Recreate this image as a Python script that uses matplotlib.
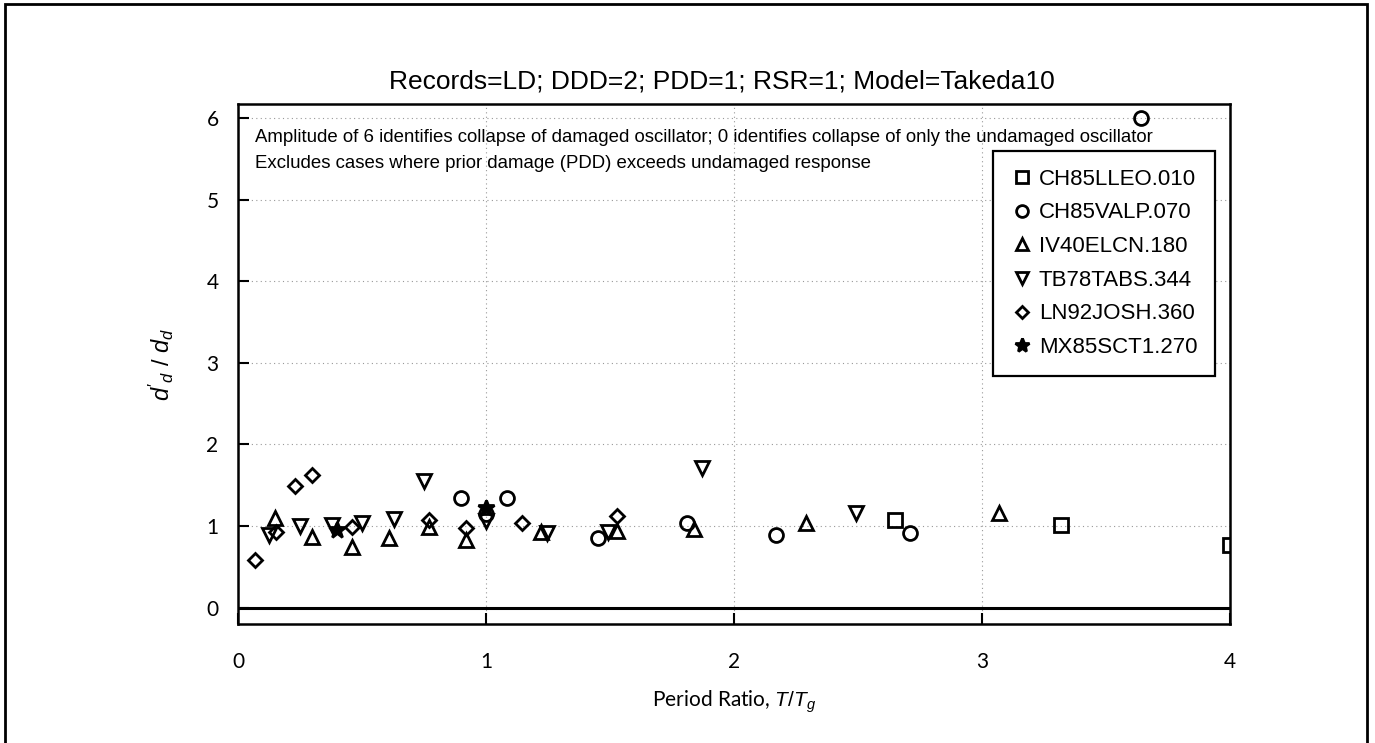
import matplotlib
matplotlib.use("Agg")
import matplotlib.pyplot as plt
from matplotlib.patches import Rectangle

plt.rcParams['font.family'] = ['Liberation Sans', 'DejaVu Sans']
plt.rcParams['mathtext.fontset'] = 'custom'
plt.rcParams['mathtext.it'] = 'Liberation Sans:italic'
plt.rcParams['mathtext.rm'] = 'Liberation Sans'

title = "Records=LD; DDD=2; PDD=1; RSR=1; Model=Takeda10"
note1 = "Amplitude of 6 identifies collapse of damaged oscillator; 0 identifies collapse of only the undamaged oscillator"
note2 = "Excludes cases where prior damage (PDD) exceeds undamaged response"

labels = ["CH85LLEO.010", "CH85VALP.070", "IV40ELCN.180", "TB78TABS.344", "LN92JOSH.360", "MX85SCT1.270"]

llleo_x = [2.65, 3.32, 4.0]
llleo_y = [1.07, 1.02, 0.77]

valp_x = [0.90, 1.0, 1.085, 1.45, 1.81, 2.17, 2.71, 3.64]
valp_y = [1.35, 1.15, 1.35, 0.86, 1.04, 0.89, 0.91, 6.0]

elcn_x = [0.15, 0.30, 0.46, 0.61, 0.77, 0.92, 1.22, 1.53, 1.84, 2.29, 3.07]
elcn_y = [1.10, 0.87, 0.75, 0.86, 0.99, 0.83, 0.93, 0.94, 0.97, 1.04, 1.16]

tabs_x = [0.125, 0.25, 0.38, 0.50, 0.63, 0.75, 1.0, 1.245, 1.49, 1.87, 2.49]
tabs_y = [0.89, 1.0, 1.02, 1.04, 1.09, 1.55, 1.06, 0.91, 0.93, 1.71, 1.16]

josh_x = [0.07, 0.155, 0.23, 0.30, 0.46, 0.77, 0.92, 1.145, 1.53]
josh_y = [0.59, 0.93, 1.49, 1.63, 0.99, 1.08, 0.98, 1.04, 1.13]

sct_x = [0.40, 1.0]
sct_y = [0.95, 1.22]

xticks = [0, 1, 2, 3, 4]
yticks = [0, 1, 2, 3, 4, 5, 6]

fig = plt.figure(figsize=(13.75, 7.43), dpi=100)
ax = fig.add_axes([0.1731, 0.160, 0.7215, 0.700])

series = [
    (llleo_x, llleo_y, 's', 10, False),
    (valp_x, valp_y, 'o', 10, False),
    (elcn_x, elcn_y, '^', 10, False),
    (tabs_x, tabs_y, 'v', 10, False),
    (josh_x, josh_y, 'D', 7, False),
    (sct_x, sct_y, '*', 12, True),
]
for (xs, ys, m, ms, filled), lab in zip(series, labels):
    ax.plot(xs, ys, linestyle='none', marker=m, markersize=ms,
            markerfacecolor='black' if filled else 'none',
            markeredgecolor='black', markeredgewidth=2, label=lab, zorder=3)

ax.set_xlim(0, 4)
ax.set_ylim(-0.2, 6.17)
ax.set_xticks(xticks)
ax.set_yticks(yticks)
ax.set_xticklabels([str(v) for v in xticks])
ax.set_yticklabels([str(v) for v in yticks])
ax.tick_params(direction='in', length=8, width=1.5, labelsize=15, color='black')
ax.tick_params(axis='x', pad=20)
ax.tick_params(axis='y', pad=14)
for lab in ax.get_xticklabels() + ax.get_yticklabels():
    lab.set_family(['Lato', 'DejaVu Sans'])

ax.grid(True, linestyle=(0, (1, 3)), color='#999999', linewidth=0.8)
ax.axhline(0, color='black', linewidth=2.2, zorder=2)
for s in ax.spines.values():
    s.set_linewidth(1.8)

ax.text(0.488, 1.02, title, transform=ax.transAxes, fontsize=19,
        ha='center', va='bottom')
ax.text(0.017, 0.9365, note1, transform=ax.transAxes, fontsize=13.4, va='center', ha='left')
ax.text(0.017, 0.8865, note2, transform=ax.transAxes, fontsize=13.4, va='center', ha='left')

ax.set_xlabel(r"Period Ratio, $T/T_g$", fontsize=15, labelpad=12, family=['Lato', 'DejaVu Sans'])
ax.set_ylabel(r"$d'_d\ /\ d_d$", fontsize=17, labelpad=22)

leg = ax.legend(loc='upper right', bbox_to_anchor=(0.985, 0.9096), borderaxespad=0,
                fontsize=16, frameon=True, fancybox=False, edgecolor='black', framealpha=1,
                handlelength=1.0, handletextpad=0.25, labelspacing=0.57,
                borderpad=0.8, markerscale=0.85)
leg.get_frame().set_linewidth(1.6)

fig.patches.append(Rectangle((0.0036, -0.02), 0.9906, 1.0146, transform=fig.transFigure,
                             fill=False, edgecolor='black', linewidth=2))

fig.savefig("out.png", dpi=100)
